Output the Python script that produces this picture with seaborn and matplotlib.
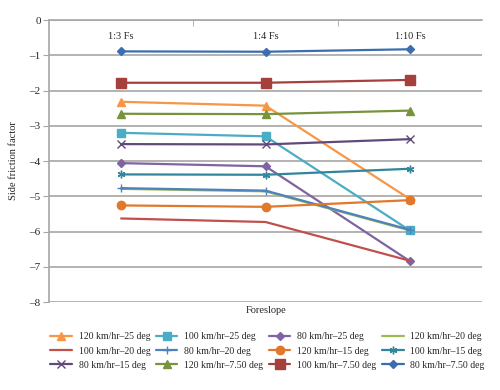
import matplotlib
matplotlib.use("Agg")
import matplotlib.pyplot as plt
import seaborn as sns
from matplotlib.ticker import FixedLocator

sns.set_style("white")
plt.rcParams['font.family'] = ['Liberation Serif', 'DejaVu Serif']

categories = ["1:3 Fs", "1:4 Fs", "1:10 Fs"]

s_120_25 = [-2.32, -2.43, -5.08]
s_100_25 = [-3.20, -3.30, -5.97]
s_80_25 = [-4.06, -4.15, -6.84]
s_120_20 = [-4.79, -4.86, -5.97]
s_100_20 = [-5.63, -5.73, -6.83]
s_80_20 = [-4.77, -4.84, -5.95]
s_120_15 = [-5.26, -5.30, -5.11]
s_100_15 = [-4.38, -4.39, -4.22]
s_80_15 = [-3.52, -3.53, -3.38]
s_120_75 = [-2.66, -2.67, -2.57]
s_100_75 = [-1.78, -1.78, -1.70]
s_80_75 = [-0.89, -0.90, -0.83]

series_names = ["120 km/hr–25 deg", "100 km/hr–25 deg", "80 km/hr–25 deg", "120 km/hr–20 deg",
                "100 km/hr–20 deg", "80 km/hr–20 deg", "120 km/hr–15 deg", "100 km/hr–15 deg",
                "80 km/hr–15 deg", "120 km/hr–7.50 deg", "100 km/hr–7.50 deg", "80 km/hr–7.50 deg"]
series_values = [s_120_25, s_100_25, s_80_25, s_120_20, s_100_20, s_80_20,
                 s_120_15, s_100_15, s_80_15, s_120_75, s_100_75, s_80_75]

styles = [
    dict(color="#F79646", marker="^", markersize=6),
    dict(color="#4BACC6", marker="s", markersize=6),
    dict(color="#8064A2", marker="D", markersize=4.5),
    dict(color="#9BBB59", marker=None),
    dict(color="#C0504D", marker=None),
    dict(color="#4F81BD", marker="+", markersize=6),
    dict(color="#E2782B", marker="o", markersize=6),
    dict(color="#31859C", marker=(6, 2, 0), markersize=5.5),
    dict(color="#604A7B", marker="x", markersize=5.5),
    dict(color="#77933C", marker="^", markersize=6),
    dict(color="#A5403D", marker="s", markersize=6.5),
    dict(color="#3C6DB0", marker="D", markersize=4.5),
]

fig = plt.figure(figsize=(5, 3.9), dpi=100)
ax = fig.add_axes([0.098, 0.2256, 0.866, 0.7231])

for i in range(len(series_names)):
    st = styles[i]
    kw = dict(color=st["color"], linewidth=1.6)
    if st["marker"] is not None:
        kw.update(marker=st["marker"], markersize=st["markersize"],
                  markeredgecolor=st["color"], markerfacecolor=st["color"], markeredgewidth=1.0)
    sns.lineplot(x=categories, y=series_values[i], ax=ax, sort=False, label=series_names[i], **kw)

ax.set_xlim(-0.5, 2.5)
ax.set_ylim(-8, 0)
ax.set_yticks(range(-8, 1))
ax.set_yticklabels([str(v).replace("-", "–") for v in range(-8, 1)], fontsize=8)
ax.yaxis.grid(True, color="#A6A6A6", linewidth=1.2)
ax.set_axisbelow(True)

ax.xaxis.tick_top()
ax.tick_params(axis="x", which="major", length=0, pad=-15, labelsize=7.5, top=True, labeltop=True,
               bottom=False, labelbottom=False)
ax.xaxis.set_minor_locator(FixedLocator([0.5, 1.5]))
ax.tick_params(axis="x", which="minor", top=True, bottom=False, direction="in", length=4, color="#A6A6A6")
ax.tick_params(axis="y", length=4, color="#A6A6A6", direction="out", left=True, pad=2)

for side in ["right", "bottom"]:
    ax.spines[side].set_visible(False)
for side in ["left", "top"]:
    ax.spines[side].set_color("#A6A6A6")
    ax.spines[side].set_linewidth(1.2)

ax.set_ylabel("Side friction factor", fontsize=7.5, labelpad=8)
ax.set_xlabel("")
fig.text(0.532, 0.203, "Foreslope", ha="center", va="center", fontsize=7.5)

handles, labels = ax.get_legend_handles_labels()
if ax.get_legend():
    ax.get_legend().remove()
ncol = 4
nrow = 3
idx = [r * ncol + c for c in range(ncol) for r in range(nrow)]
leg = fig.legend([handles[i] for i in idx], [labels[i] for i in idx], ncol=ncol,
                 loc="center", bbox_to_anchor=(0.535, 0.1), frameon=False, fontsize=7,
                 handlelength=2.2, columnspacing=0.6, handletextpad=0.7, labelspacing=0.55)

fig.savefig("out.png", dpi=100)
